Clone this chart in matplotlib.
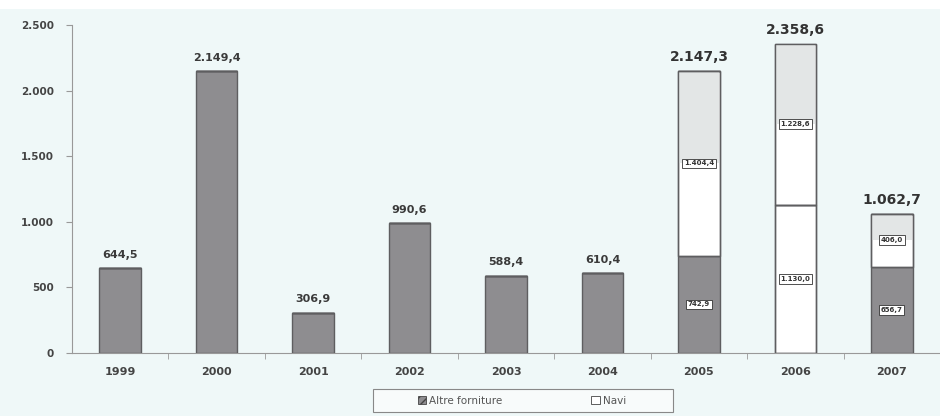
import matplotlib
matplotlib.use("Agg")
import matplotlib.pyplot as plt
from matplotlib.patches import Patch, Rectangle

years = ['1999', '2000', '2001', '2002', '2003', '2004', '2005', '2006', '2007']
altre = [644.5, 2149.4, 306.9, 990.6, 588.4, 610.4, 742.9, 0.0, 656.7]
navi_1 = [0.0, 0.0, 0.0, 0.0, 0.0, 0.0, 1404.4, 1130.0, 406.0]
navi_2 = [0.0, 0.0, 0.0, 0.0, 0.0, 0.0, 0.0, 1228.6, 0.0]
y_ticks = [0, 500, 1000, 1500, 2000, 2500]
legend_labels = ['Altre forniture', 'Navi']


def it_fmt(v, dec=1):
    s = f"{v:,.{dec}f}"
    return s.replace(',', 'X').replace('.', ',').replace('X', '.')


plt.rcParams['font.family'] = ['DejaVu Sans']

fig = plt.figure(figsize=(9.4, 4.16), dpi=100)
fig.patch.set_facecolor('#eff8f8')
fig.add_artist(Rectangle((0, 1 - 9 / 416), 1, 9 / 416, transform=fig.transFigure,
                         facecolor='white', edgecolor='none', zorder=0))

ax = fig.add_axes([72 / 940, 63 / 416, (940 - 72) / 940, 328 / 416])
ax.set_facecolor('none')

x = list(range(len(years)))
w = 0.43
dark = '#8e8d90'
edge = '#5e5e60'
light = '#e3e6e6'

ax.bar(x, altre, width=w, color=dark, edgecolor=edge, linewidth=1.0, zorder=3)

bottom1 = altre
ax.bar(x, navi_1, width=w, bottom=bottom1, color='white', edgecolor=edge,
       linewidth=1.0, zorder=3)
half1 = [v / 2 for v in navi_1]
mid1 = [b + h for b, h in zip(bottom1, half1)]
shade1 = [h if i != 7 else 0 for i, h in enumerate(half1)]
ax.bar(x, shade1, width=w - 0.02, bottom=mid1, color=light, edgecolor='none',
       linewidth=0, zorder=3.5)

bottom2 = [a + b for a, b in zip(altre, navi_1)]
ax.bar(x, navi_2, width=w, bottom=bottom2, color='white', edgecolor=edge,
       linewidth=1.0, zorder=3)
half2 = [v / 2 for v in navi_2]
mid2 = [b + h for b, h in zip(bottom2, half2)]
ax.bar(x, half2, width=w - 0.02, bottom=mid2, color=light, edgecolor='none',
       linewidth=0, zorder=3.5)
tot = [a + b + c for a, b, c in zip(altre, navi_1, navi_2)]
ax.bar(x, navi_2, width=w, bottom=bottom2, color='none', edgecolor=edge,
       linewidth=1.0, zorder=4)
ax.bar(x, navi_1, width=w, bottom=bottom1, color='none', edgecolor=edge,
       linewidth=1.0, zorder=4)

for i in x:
    stacked = navi_1[i] > 0 or navi_2[i] > 0
    if stacked:
        ax.annotate(it_fmt(tot[i]), (i, tot[i]), xytext=(0, 5),
                    textcoords='offset points', ha='center', va='bottom',
                    fontsize=10, fontweight='bold', color='#333333')
    else:
        ax.annotate(it_fmt(tot[i]), (i, tot[i]), xytext=(0, 6),
                    textcoords='offset points', ha='center', va='bottom',
                    fontsize=8, fontweight='bold', color='#3a3a3a')

box = dict(boxstyle='square,pad=0.25', facecolor='white', edgecolor='#333333',
           linewidth=0.6)
for i in x:
    if navi_1[i] > 0 or navi_2[i] > 0:
        segs = [(0, altre[i]), (bottom1[i], navi_1[i]), (bottom2[i], navi_2[i])]
        for b, v in segs:
            if v > 0:
                ax.text(i, b + v / 2, it_fmt(v), ha='center', va='center',
                        fontsize=5, fontweight='bold', color='#333333',
                        bbox=box, zorder=6)

ax.set_xlim(-0.5, 8.45)
ax.set_ylim(0, 2500)
ax.set_yticks(y_ticks)
ax.set_yticklabels([it_fmt(v, 0) for v in y_ticks])
ax.set_xticks(x)
ax.set_xticklabels(years)
ax.set_xticks([i + 0.5 for i in x], minor=True)
ax.tick_params(axis='x', which='major', length=0, pad=10, labelsize=8,
               colors='#444444')
ax.tick_params(axis='x', which='minor', length=4, color='#999999', direction='out')
ax.tick_params(axis='y', length=4, color='#999999', labelsize=7.5, pad=9)
ax.tick_params(axis='y', colors='#999999', labelcolor='#444444')
for lab in ax.get_xticklabels() + ax.get_yticklabels():
    lab.set_fontweight('bold')

for s in ['top', 'right']:
    ax.spines[s].set_visible(False)
ax.spines['left'].set_color('#999999')
ax.spines['bottom'].set_color('#999999')

# legend frame drawn separately to match the wide box
fig.add_artist(Rectangle((373 / 940, 1 - 412 / 416), 300 / 940, 23 / 416,
                         transform=fig.transFigure, facecolor='#f8fbfb',
                         edgecolor='#888888', linewidth=0.8, zorder=1))
handles = [Patch(facecolor=dark, edgecolor='#444444', hatch='////', linewidth=0.6),
           Patch(facecolor='white', edgecolor='#444444', linewidth=0.6)]
leg = fig.legend(handles, legend_labels, loc='center',
                 bbox_to_anchor=(522 / 940, 1 - 400.5 / 416), ncol=2,
                 fontsize=7.5, frameon=False,
                 handlelength=0.8, handleheight=0.8, handletextpad=0.3,
                 columnspacing=8.5)
leg.set_zorder(2)
for t in leg.get_texts():
    t.set_color('#555555')

fig.savefig('out.png', dpi=100, facecolor=fig.get_facecolor())
